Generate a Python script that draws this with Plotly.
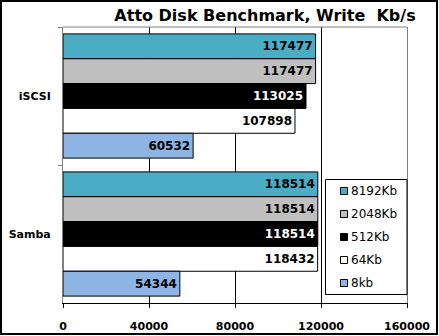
import plotly.graph_objects as go

categories = ["iSCSI", "Samba"]
series_names = ["8192Kb", "2048Kb", "512Kb", "64Kb", "8kb"]
v_8192 = [117477, 118514]
v_2048 = [117477, 118514]
v_512 = [113025, 118514]
v_64 = [107898, 118432]
v_8 = [60532, 54344]
series_values = [v_8192, v_2048, v_512, v_64, v_8]
colors = ["#4BACC6", "#C0C0C0", "#000000", "#FFFFFF", "#8DB4E2"]
text_colors = ["#000000", "#000000", "#FFFFFF", "#000000", "#000000"]
x_ticks = [0, 40000, 80000, 120000, 160000]

W, H = 439, 336
L, R, T, B = 63, 32, 27, 33
PW, PH = W - L - R, H - T - B

def px(x):
    return (x - L) / PW

def py(y):
    return 1 - (y - T) / PH

FONT = "DejaVu Sans"
fig = go.Figure()
for name, vals, col, tcol in zip(series_names, series_values, colors, text_colors):
    fig.add_trace(go.Bar(
        y=categories, x=vals, name=name, orientation="h",
        marker=dict(color=col, line=dict(color="#000000", width=1)),
        text=[str(v) for v in vals], textposition="inside",
        insidetextanchor="end", textangle=0,
        textfont=dict(family=FONT, size=12, color=tcol, weight="bold"),
        showlegend=False, cliponaxis=False,
    ))

shapes = [
    # outer frame
    dict(type="rect", xref="paper", yref="paper",
         x0=px(1), x1=px(437), y0=py(1), y1=py(334),
         line=dict(color="#000000", width=2), layer="above"),
    # top border of plot area
    dict(type="line", xref="paper", yref="paper", x0=0, x1=1, y0=1, y1=1,
         line=dict(color="#808080", width=1)),
    # legend box
    dict(type="rect", xref="paper", yref="paper",
         x0=px(325.5), x1=px(407), y0=py(179.5), y1=py(294.5),
         line=dict(color="#000000", width=1), fillcolor="#FFFFFF", layer="above"),
]
annotations = []
for i, (name, col) in enumerate(zip(series_names, colors)):
    yc = 191 + i * 23
    shapes.append(dict(type="rect", xref="paper", yref="paper",
                       x0=px(340.5), x1=px(347.5), y0=py(yc - 3.5), y1=py(yc + 3.5),
                       line=dict(color="#000000", width=1), fillcolor=col, layer="above"))
    annotations.append(dict(xref="paper", yref="paper", x=px(349), y=py(yc),
                            xanchor="left", yanchor="middle", text=name, showarrow=False,
                            font=dict(family=FONT, size=12, color="#000000")))

fig.update_layout(
    width=W, height=H,
    margin=dict(l=L, r=R, t=T, b=B, autoexpand=False),
    paper_bgcolor="#FFFFFF", plot_bgcolor="#FFFFFF",
    barmode="group", bargap=0.1, bargroupgap=0,
    title=dict(text="Atto Disk Benchmark, Write  Kb/s", x=265 / W, xanchor="center",
               y=1 - 15 / H, yanchor="middle", automargin=False,
               font=dict(family=FONT, size=16, color="#000000", weight="bold")),
    xaxis=dict(range=[0, 160000], tickvals=x_ticks, ticktext=[str(t) for t in x_ticks],
               showgrid=True, gridcolor="#000000", gridwidth=1, zeroline=False,
               showline=True, linecolor="#000000", linewidth=1,
               ticks="outside", ticklen=4, tickcolor="#000000",
               ticklabelstandoff=9, automargin=False,
               tickfont=dict(family=FONT, size=11, color="#000000", weight="bold")),
    yaxis=dict(categoryorder="array", categoryarray=categories, autorange="reversed",
               showline=True, linecolor="#808080", linewidth=1, mirror=True,
               ticks="outside", tickson="boundaries", ticklen=4, tickcolor="#808080",
               showgrid=False, ticklabelstandoff=9, automargin=False,
               tickfont=dict(family=FONT, size=11, color="#000000", weight="bold")),
    shapes=shapes, annotations=annotations,
    showlegend=False,
    uniformtext=dict(mode=False),
)

fig.write_html("out.html")
